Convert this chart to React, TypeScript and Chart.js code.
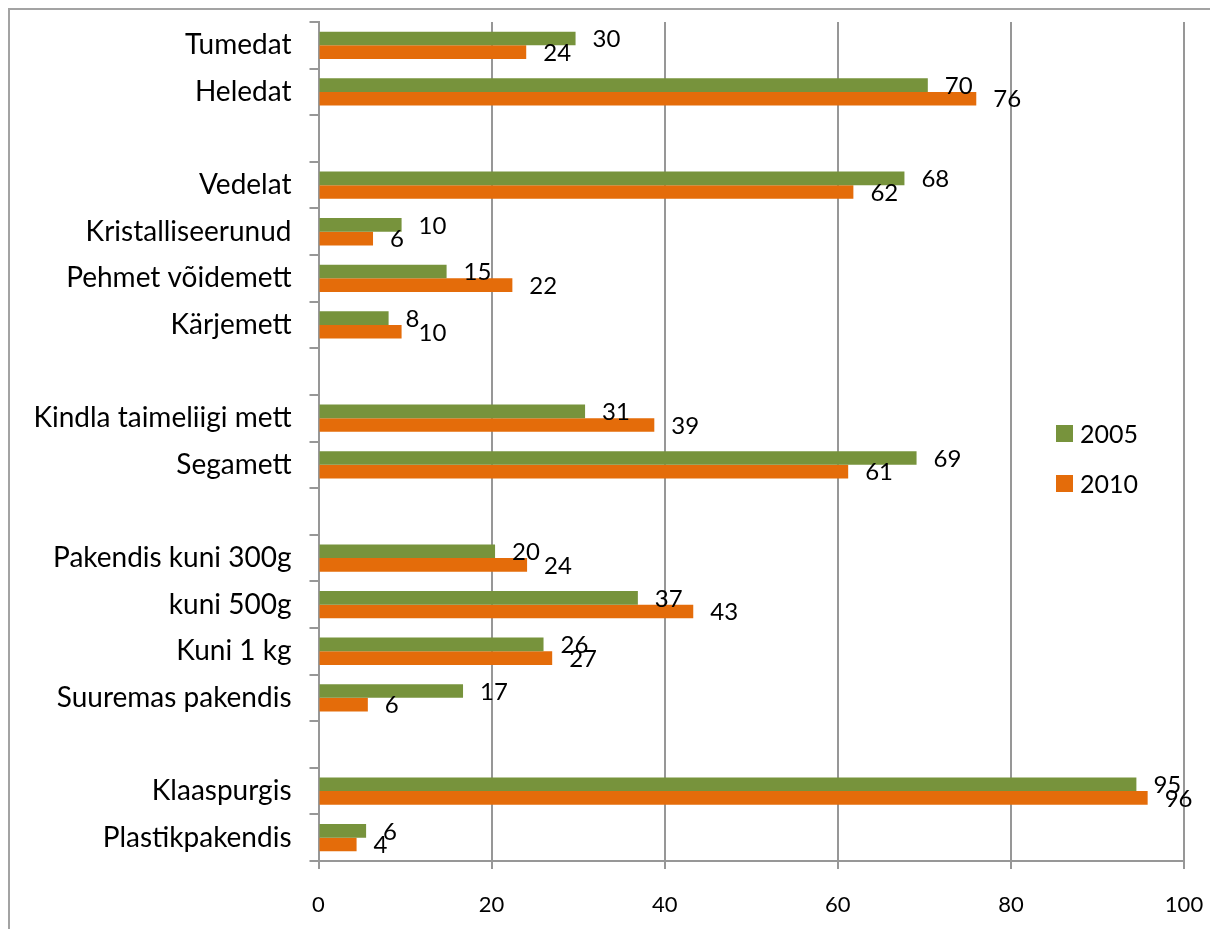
import React, { useEffect, useRef } from "react";
import { Chart, registerables } from "chart.js";

Chart.register(...registerables);

const categories = [
  "Tumedat",
  "Heledat",
  "",
  "Vedelat",
  "Kristalliseerunud",
  "Pehmet võidemett",
  "Kärjemett",
  "",
  "Kindla taimeliigi mett",
  "Segamett",
  "",
  "Pakendis kuni 300g",
  "kuni 500g",
  "Kuni 1 kg",
  "Suuremas pakendis",
  "",
  "Klaaspurgis",
  "Plastikpakendis",
];

const values2005: (number | null)[] = [
  29.7, 70.4, null, 67.7, 9.6, 14.8, 8.1, null, 30.8, 69.1, null, 20.4, 36.9, 26.0, 16.7, null, 94.5, 5.5,
];
const values2010: (number | null)[] = [
  24.0, 76.0, null, 61.8, 6.3, 22.4, 9.6, null, 38.8, 61.2, null, 24.1, 43.3, 27.0, 5.7, null, 95.8, 4.4,
];

const seriesNames = ["2005", "2010"];
const seriesColors = ["#77933C", "#E46C0A"];
const xTicks = [0, 20, 40, 60, 80, 100];

const FONT = "Lato, 'Liberation Sans', sans-serif";
const GRID = "#979797";

const framePlugin = {
  id: "frame",
  beforeDraw(chart: any) {
    const { ctx, width, height } = chart;
    ctx.save();
    ctx.fillStyle = "#a3a3a3";
    ctx.fillRect(0, 0, 2, height);
    ctx.fillRect(0, 0, width, 2);
    ctx.restore();
  },
};

const dataLabelPlugin = {
  id: "dataLabels",
  afterDatasetsDraw(chart: any) {
    const { ctx } = chart;
    ctx.save();
    ctx.font = `24px ${FONT}`;
    ctx.fillStyle = "#000";
    ctx.textAlign = "left";
    ctx.textBaseline = "middle";
    chart.data.datasets.forEach((ds: any, di: number) => {
      const meta = chart.getDatasetMeta(di);
      meta.data.forEach((el: any, i: number) => {
        const v = ds.data[i];
        if (v === null || v === undefined) return;
        ctx.fillText(String(Math.round(v)), el.x + 17, el.y + 1);
      });
    });
    ctx.restore();
  },
};

const legendPlugin = {
  id: "customLegend",
  afterDraw(chart: any) {
    const { ctx, chartArea } = chart;
    ctx.save();
    ctx.font = `25px ${FONT}`;
    ctx.textAlign = "left";
    ctx.textBaseline = "middle";
    const sx = chartArea.right - 128;
    const ys = [chartArea.top + 411.5, chartArea.top + 461.5];
    seriesNames.forEach((name, i) => {
      ctx.fillStyle = seriesColors[i];
      ctx.fillRect(sx, ys[i] - 8.5, 17, 17);
      ctx.fillStyle = "#000";
      ctx.fillText(name, sx + 24, ys[i] + 1);
    });
    ctx.restore();
  },
};

export default function App() {
  const ref = useRef<HTMLCanvasElement | null>(null);

  useEffect(() => {
    if (!ref.current) return;
    const chart = new Chart(ref.current, {
      type: "bar",
      data: {
        labels: categories,
        datasets: [
          {
            label: seriesNames[0],
            data: values2005,
            backgroundColor: seriesColors[0],
            categoryPercentage: 0.585,
            barPercentage: 1,
          },
          {
            label: seriesNames[1],
            data: values2010,
            backgroundColor: seriesColors[1],
            categoryPercentage: 0.585,
            barPercentage: 1,
          },
        ],
      },
      options: {
        indexAxis: "y",
        animation: false,
        responsive: false,
        maintainAspectRatio: false,
        layout: { padding: { top: 14, right: 34, left: 0, bottom: 0 } },
        plugins: {
          legend: { display: false },
          tooltip: { enabled: false },
        },
        scales: {
          x: {
            min: 0,
            max: 100,
            afterBuildTicks(scale: any) {
              scale.ticks = xTicks.map((v) => ({ value: v }));
            },
            afterFit(scale: any) {
              scale.height = 68;
              scale.paddingLeft = 0;
              scale.paddingRight = 0;
            },
            ticks: {
              color: "#000",
              font: { family: FONT, size: 22 },
              padding: 23,
              maxRotation: 0,
            },
            grid: {
              color: GRID,
              lineWidth: 2,
              drawTicks: true,
              tickLength: 8,
            },
            border: { display: true, color: GRID, width: 2 },
          },
          y: {
            afterFit(scale: any) {
              scale.width = 310.5;
              scale.paddingTop = 0;
              scale.paddingBottom = 0;
            },
            ticks: {
              color: "#000",
              font: { family: FONT, size: 28 },
              padding: 18,
              autoSkip: false,
            },
            grid: {
              drawOnChartArea: false,
              offset: true,
              drawTicks: true,
              tickLength: 9,
              color: GRID,
              lineWidth: 2,
            },
            border: { display: true, color: GRID, width: 2 },
          },
        },
      },
      plugins: [framePlugin, dataLabelPlugin, legendPlugin],
    } as any);
    return () => chart.destroy();
  }, []);

  return (
    <div style={{ width: 1210, height: 921, overflow: "hidden" }}>
      <canvas ref={ref} width={1210} height={921} style={{ display: "block" }} />
    </div>
  );
}
